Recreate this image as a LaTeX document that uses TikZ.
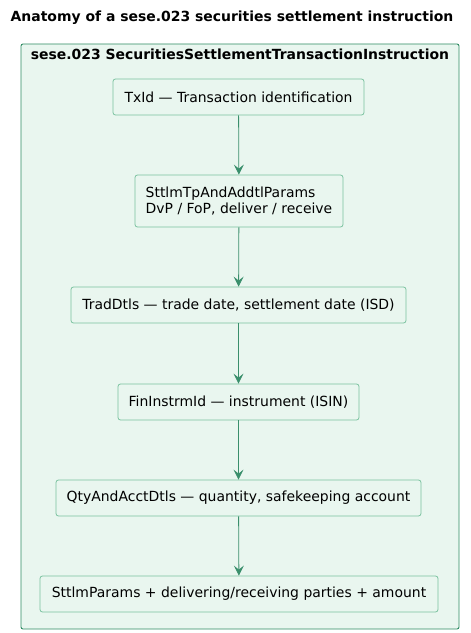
\documentclass[tikz,border=0pt]{standalone}
\usepackage{fontspec}
\setmainfont{DejaVu Sans}
\usetikzlibrary{arrows.meta}
\definecolor{framegreen}{HTML}{2E8B63}
\definecolor{bgmint}{HTML}{E9F6EF}
\definecolor{boxline}{HTML}{7AC29F}
\definecolor{arrowgreen}{HTML}{3A8F6C}
\tikzset{
  field/.style={draw=boxline, fill=bgmint, rounded corners=2.5bp, line width=0.8bp,
    inner sep=0pt, font=\fontsize{14}{17}\selectfont, align=left, text=black},
  flow/.style={draw=arrowgreen, line width=0.8bp, -{Stealth[length=10bp,width=10bp,inset=4bp]}}
}
\begin{document}
\begin{tikzpicture}[x=1bp,y=-1bp]
\useasboundingbox (0,0) rectangle (471,633);
\node[font=\bfseries\fontsize{14}{17}\selectfont] (title) at (232,18) {Anatomy of a sese.023 securities settlement instruction};
\draw[draw=framegreen, fill=bgmint, line width=0.9bp, rounded corners=2bp] (21,44) rectangle (459,629);
\node[font=\bfseries\fontsize{14}{17}\selectfont] (frametitle) at (240,54) {sese.023 SecuritiesSettlementTransactionInstruction};
\node[field, minimum width=251bp, minimum height=36bp] (tx) at (238.5,97) {TxId — Transaction identification};
\node[field, minimum width=208bp, minimum height=52bp] (tp) at (239,201) {SttlmTpAndAddtlParams\\DvP / FoP, deliver / receive};
\node[field, minimum width=335bp, minimum height=36bp] (trad) at (238.5,305) {TradDtls — trade date, settlement date (ISD)};
\node[field, minimum width=241bp, minimum height=36bp] (fin) at (238.5,402) {FinInstrmId — instrument (ISIN)};
\node[field, minimum width=365bp, minimum height=36bp] (qty) at (238.5,498) {QtyAndAcctDtls — quantity, safekeeping account};
\node[field, minimum width=398bp, minimum height=36bp] (sp) at (239,594) {SttlmParams + delivering/receiving parties + amount};
\draw[flow] (tx) -- (tp);
\draw[flow] (tp) -- (trad);
\draw[flow] (trad) -- (fin);
\draw[flow] (fin) -- (qty);
\draw[flow] (qty) -- (sp);
\end{tikzpicture}
\end{document}
